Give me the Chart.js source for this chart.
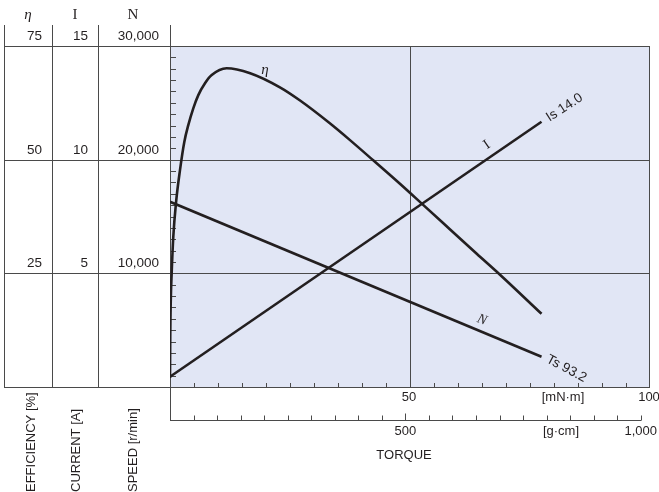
<!DOCTYPE html>
<html>
<head>
<meta charset="utf-8">
<script src="https://cdn.jsdelivr.net/npm/chart.js@4"></script>
<style>
  body { margin: 0; background: #fff; }
  canvas { display: block; }
</style>
</head>
<body>
<canvas id="motor-chart" width="659" height="492"></canvas>
<script>
// Torque axis [mN·m] and the three characteristic curves
const torqueLine = [0, 77.4];
const speedValues = [16300, 2665];      // N [r/min]
const currentValues = [0.45, 11.67];    // I [A]

const etaTorque = [0, 0.05, 0.15, 0.35, 0.69, 1.25, 2.08, 2.98, 3.81, 4.85, 5.9, 7.29, 8.69, 11.8, 16.7, 22.9, 27.1, 33.3, 37.5, 42.4, 47.9, 52.8, 58.3, 63.9, 68.75, 77.4];
const etaValues = [2, 11, 18.5, 25.1, 33.1, 40.5, 47.7, 53.9, 57.6, 61.3, 64.2, 66.8, 68.6, 70.1, 69.0, 65.9, 63.0, 58.0, 54.3, 49.8, 44.7, 40.0, 34.7, 29.3, 24.7, 16.1];

// Tick labels
const etaTicks = [25, 50, 75];
const currentTicks = [5, 10, 15];
const speedTicks = ['10,000', '20,000', '30,000'];
const speedTickValues = [10000, 20000, 30000];
const mNmLabels = [[50, '50'], [100, '100']];
const gcmLabels = [[500, '500'], [1000, '1,000']];

const ink = '#231f20';
const gridInk = '#4a4a4a';
const sans = 'Liberation Sans, Arial, sans-serif';
const serif = 'Liberation Serif, Times New Roman, serif';

const pts = (xs, ys) => xs.map((x, i) => ({ x: x, y: ys[i] }));

const motorDecor = {
  id: 'motorDecor',
  beforeDatasetsDraw(chart) {
    const { ctx, chartArea: a, scales } = chart;
    const x = scales.x, y = scales.y;
    ctx.save();
    // plot background
    ctx.fillStyle = '#e1e6f5';
    ctx.fillRect(a.left, a.top, a.right - a.left, a.bottom - a.top);

    ctx.strokeStyle = gridInk;
    ctx.lineWidth = 1;
    const line = (x1, y1, x2, y2) => {
      ctx.beginPath(); ctx.moveTo(x1, y1); ctx.lineTo(x2, y2); ctx.stroke();
    };
    // horizontal grid lines across the table and plot
    [0, 10000, 20000, 30000].forEach(v => {
      const py = Math.round(y.getPixelForValue(v)) + 0.5;
      line(4, py, a.right, py);
    });
    // table columns
    [4.5, 52.5, 98.5].forEach(px => line(px, 25, px, a.bottom));
    // plot left edge extends down to g·cm axis
    const gAxisY = 420.5;
    line(a.left + 0.5, 25, a.left + 0.5, gAxisY);
    // right edge and 50 mN·m grid line
    line(a.right - 0.5, a.top, a.right - 0.5, a.bottom);
    const x50 = Math.round(x.getPixelForValue(50)) + 0.5;
    line(x50, a.top, x50, a.bottom);

    // minor ticks on speed axis
    for (let v = 1000; v < 30000; v += 1000) {
      const py = Math.round(y.getPixelForValue(v)) + 0.5;
      line(a.left, py, a.left + 6, py);
    }
    // minor ticks on mN·m axis
    for (let v = 5; v < 100; v += 5) {
      const px = Math.round(x.getPixelForValue(v)) + 0.5;
      line(px, a.bottom, px, a.bottom - 4);
    }
    // g·cm axis
    const gx = g => x.getPixelForValue(g / 10.197);
    line(a.left, gAxisY, gx(1000) + 0.5, gAxisY);
    for (let g = 50; g <= 1000; g += 50) {
      const px = Math.round(gx(g)) + 0.5;
      const len = (g === 500) ? 7 : 5;
      line(px, gAxisY, px, gAxisY - len);
    }

    // column headers
    ctx.fillStyle = ink;
    ctx.textAlign = 'center';
    ctx.textBaseline = 'middle';
    ctx.font = 'italic 15px ' + serif;
    ctx.fillText('\u03b7', 28, 15);
    ctx.font = '15px ' + serif;
    ctx.fillText('I', 75, 15);
    ctx.fillText('N', 133, 15);

    // row labels
    ctx.font = '13.5px ' + sans;
    ctx.textAlign = 'right';
    ctx.textBaseline = 'alphabetic';
    speedTickValues.forEach((v, i) => {
      const py = y.getPixelForValue(v) - 6;
      ctx.fillText(String(etaTicks[i]), 42, py);
      ctx.fillText(String(currentTicks[i]), 88, py);
      ctx.fillText(speedTicks[i], 159, py);
    });

    // torque labels
    ctx.font = '13px ' + sans;
    ctx.textAlign = 'center';
    ctx.textBaseline = 'middle';
    mNmLabels.forEach(([v, t]) => ctx.fillText(t, x.getPixelForValue(v) - 1, 397));
    ctx.fillText('[mN\u00b7m]', 563, 397);
    gcmLabels.forEach(([g, t]) => ctx.fillText(t, gx(g), 431));
    ctx.fillText('[g\u00b7cm]', 561, 431);
    ctx.fillText('TORQUE', 404, 455);

    // rotated axis titles
    ctx.textAlign = 'left';
    [['EFFICIENCY [%]', 31], ['CURRENT [A]', 76], ['SPEED [r/min]', 133]].forEach(([t, px]) => {
      ctx.save();
      ctx.translate(px, 492);
      ctx.rotate(-Math.PI / 2);
      ctx.fillText(t, 0, 0);
      ctx.restore();
    });
    ctx.restore();
  },
  afterDatasetsDraw(chart) {
    const { ctx, scales } = chart;
    const x = scales.x;
    ctx.save();
    ctx.fillStyle = ink;
    ctx.textAlign = 'center';
    ctx.textBaseline = 'middle';
    const text = (t, px, py, deg, font) => {
      ctx.save();
      ctx.translate(px, py);
      ctx.rotate(deg * Math.PI / 180);
      ctx.font = font;
      ctx.fillText(t, 0, 0);
      ctx.restore();
    };
    const endT = torqueLine[1];
    const iEndY = scales.yI.getPixelForValue(currentValues[1]);
    const nEndY = scales.y.getPixelForValue(speedValues[1]);
    const endX = x.getPixelForValue(endT);
    text('Is 14.0', endX + 23, iEndY - 14, -33, '13.5px ' + sans);
    text('Ts 93.2', endX + 25, nEndY + 12, 28, '13.5px ' + sans);
    text('\u03b7', 265, 70, 0, 'italic 15px ' + serif);
    text('I', 487, 145, -34, '14px ' + serif);
    text('N', 482, 320, 20, 'italic 14px ' + serif);
    ctx.restore();
  }
};

const curveStyle = {
  borderColor: ink,
  borderWidth: 2.6,
  pointRadius: 0,
  showLine: true,
  fill: false
};

new Chart(document.querySelector('#motor-chart'), {
  type: 'scatter',
  data: {
    datasets: [
      { ...curveStyle, label: 'N', data: pts(torqueLine, speedValues), yAxisID: 'y' },
      { ...curveStyle, label: 'I', data: pts(torqueLine, currentValues), yAxisID: 'yI' },
      { ...curveStyle, label: 'eta', data: pts(etaTorque, etaValues), yAxisID: 'yEta',
        cubicInterpolationMode: 'monotone' }
    ]
  },
  options: {
    responsive: false,
    animation: false,
    layout: { padding: { left: 170, right: 9, top: 46, bottom: 105 } },
    plugins: { legend: { display: false }, tooltip: { enabled: false } },
    scales: {
      x: { type: 'linear', min: 0, max: 100, display: false },
      y: { type: 'linear', min: 0, max: 30000, display: false },
      yI: { type: 'linear', min: 0, max: 15, display: false },
      yEta: { type: 'linear', min: 0, max: 75, display: false }
    }
  },
  plugins: [motorDecor]
});
</script>
</body>
</html>
